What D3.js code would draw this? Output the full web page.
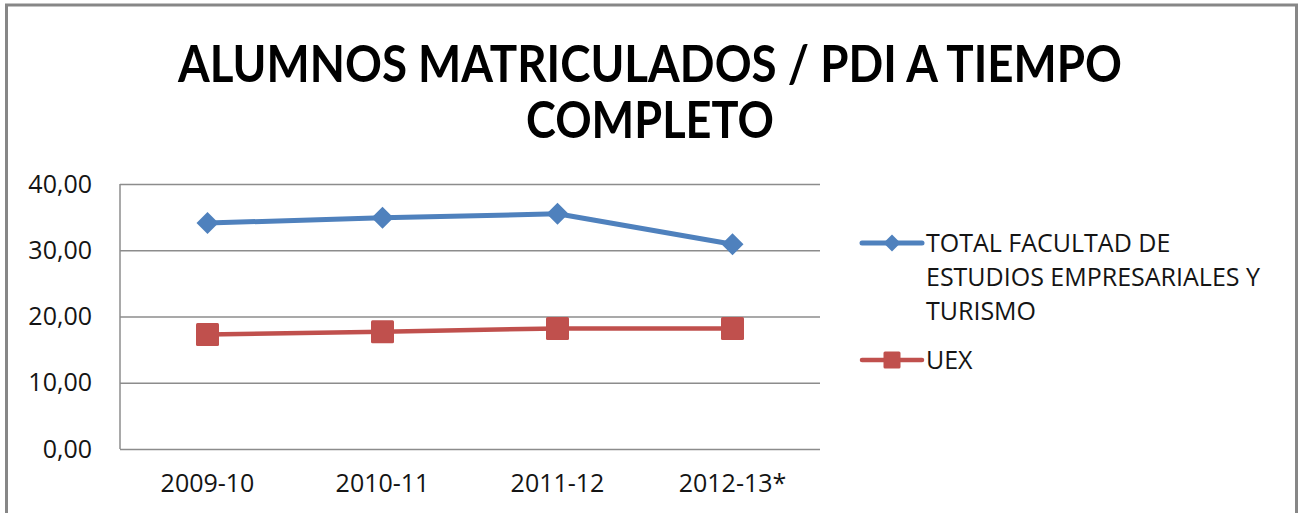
<!DOCTYPE html>
<html>
<head>
<meta charset="utf-8">
<script src="https://cdn.jsdelivr.net/npm/d3@7"></script>
<style>
  body { margin: 0; background: #fff; }
  text { font-family: "Open Sans", sans-serif; fill: #141414; }
</style>
</head>
<body>
<svg width="1298" height="513"></svg>
<script>
// values
var categories = ['2009-10', '2010-11', '2011-12', '2012-13*'];
var facultad = [34.1, 34.9, 35.5, 30.9];
var uex = [17.3, 17.7, 18.2, 18.2];
var yTicks = [0, 10, 20, 30, 40];
var titleLines = ['ALUMNOS MATRICULADOS / PDI A TIEMPO', 'COMPLETO'];

var series = [
  {name: ['TOTAL FACULTAD DE', 'ESTUDIOS EMPRESARIALES Y', 'TURISMO'], values: facultad, color: '#4f81bd', marker: 'diamond'},
  {name: ['UEX'], values: uex, color: '#c0504d', marker: 'square'}
];

var svg = d3.select('svg'),
    margin = {top: 184, right: 478, bottom: 64, left: 120},
    width = 1298 - margin.left - margin.right,
    height = 513 - margin.top - margin.bottom;

// outer chart border (bottom is cut off in the picture)
svg.append('path')
    .attr('d', 'M6.5,520V5H1296.5V520')
    .attr('fill', 'none')
    .attr('stroke', '#878787')
    .attr('stroke-width', 3);

// title
var title = svg.append('g');
title.selectAll('text')
  .data(titleLines)
  .enter().append('text')
    .attr('x', 650)
    .attr('y', function(d, i) { return 82 + i * 56; })
    .attr('text-anchor', 'middle')
    .style('font-family', 'Lato, sans-serif')
    .style('font-weight', 'bold')
    .style('font-size', '52px')
    .style('fill', '#000')
    .attr('textLength', function(d, i) { return i == 0 ? 944 : 248; })
    .attr('lengthAdjust', 'spacingAndGlyphs')
    .text(function(d) { return d; });

var x = d3.scaleBand().domain(categories).range([0, width]);
var y = d3.scaleLinear().domain([0, 40]).range([height, 0]);

var g = svg.append('g')
    .attr('transform', 'translate(' + margin.left + ',' + margin.top + ')');

// gridlines + y axis
g.append('g')
    .attr('class', 'axis axis--y')
    .call(d3.axisLeft(y).tickValues(yTicks).tickSize(-width).tickPadding(28)
      .tickFormat(function(d) { return d3.format('.2f')(d).replace('.', ','); }))
    .call(function(a) {
      a.select('.domain').remove();
      a.selectAll('line').attr('stroke', '#8c8c8c').attr('stroke-width', 1.5);
      a.selectAll('text').style('font-size', '25px').attr('fill', '#141414');
    });

// left axis line
g.append('line')
    .attr('x1', 0).attr('x2', 0).attr('y1', 0).attr('y2', height)
    .attr('stroke', '#8c8c8c').attr('stroke-width', 1.5);

// x axis
g.append('g')
    .attr('class', 'axis axis--x')
    .attr('transform', 'translate(0,' + height + ')')
    .call(d3.axisBottom(x).tickSize(0).tickPadding(25))
    .call(function(a) {
      a.select('.domain').remove();
      a.selectAll('text').style('font-size', '25px').attr('fill', '#141414');
    });

var line = d3.line()
    .x(function(d, i) { return x(categories[i]) + x.bandwidth() / 2; })
    .y(function(d) { return y(d); });

function drawMarker(sel, type, size, color) {
  if (type == 'diamond') {
    sel.append('path')
        .attr('d', 'M0,' + (-size) + 'L' + size + ',0L0,' + size + 'L' + (-size) + ',0Z')
        .attr('fill', color);
  } else {
    sel.append('rect')
        .attr('x', -size).attr('y', -size)
        .attr('width', size * 2).attr('height', size * 2)
        .attr('rx', 1.5)
        .attr('fill', color);
  }
}

series.forEach(function(s) {
  g.append('path')
      .datum(s.values)
      .attr('fill', 'none')
      .attr('stroke', s.color)
      .attr('stroke-width', s.marker == 'diamond' ? 5 : 4.5)
      .attr('stroke-linejoin', 'round')
      .attr('d', line);

  g.selectAll(null)
    .data(s.values)
    .enter().append('g')
      .attr('transform', function(d, i) {
        return 'translate(' + (x(categories[i]) + x.bandwidth() / 2) + ',' + y(d) + ')';
      })
      .each(function() { drawMarker(d3.select(this), s.marker, s.marker == 'diamond' ? 11 : 11.5, s.color); });
});

// legend
var legendY = [243, 360];
var legend = svg.append('g');
series.forEach(function(s, k) {
  var item = legend.append('g')
      .attr('transform', 'translate(862,' + legendY[k] + ')');
  item.append('line')
      .attr('x1', 0).attr('x2', 60)
      .attr('stroke', s.color)
      .attr('stroke-width', s.marker == 'diamond' ? 5 : 4.5)
      .attr('stroke-linecap', 'round');
  var m = item.append('g').attr('transform', 'translate(30,0)');
  drawMarker(m, s.marker, 8.5, s.color);
  item.selectAll('text')
    .data(s.name)
    .enter().append('text')
      .attr('x', 64)
      .attr('y', function(d, i) { return 9 + i * 34; })
      .style('font-size', '25px')
      .text(function(d) { return d; });
});
</script>
</body>
</html>
